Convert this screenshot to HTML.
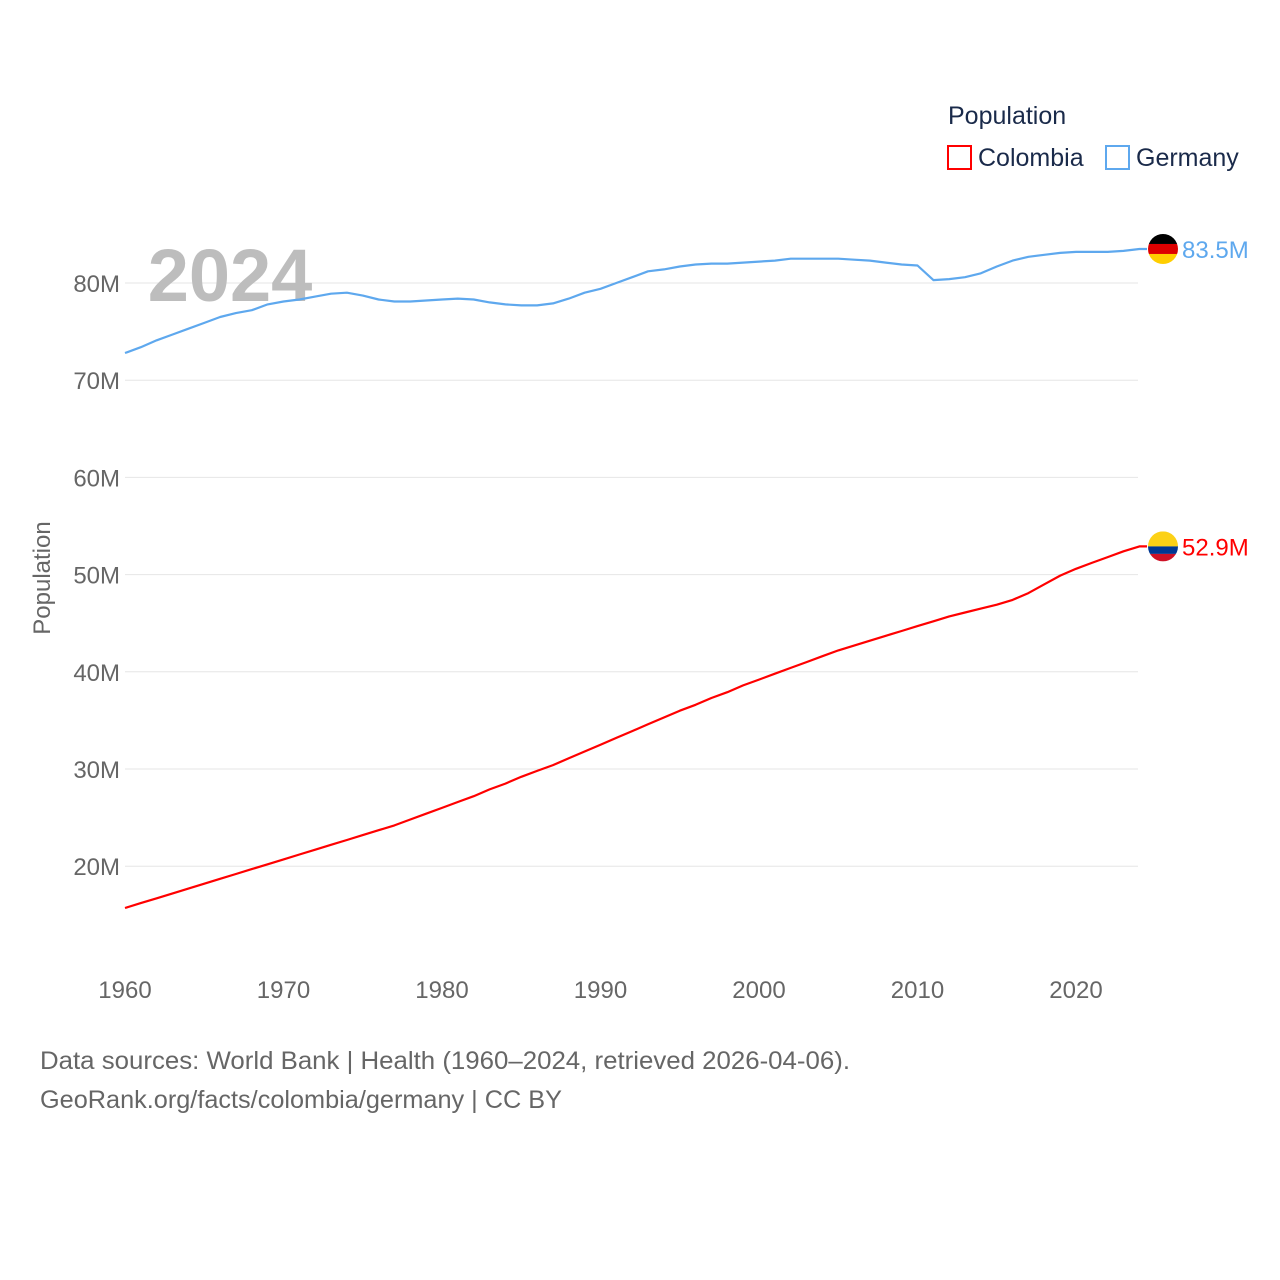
<!DOCTYPE html>
<html><head><meta charset="utf-8"><style>
body{margin:0;background:#fff;font-family:"Liberation Sans",sans-serif}
svg{display:block}
</style></head><body>
<svg width="1280" height="1280" viewBox="0 0 1280 1280">
<g id="grid"></g>
<g id="yt"></g>
<g id="xt"></g>
<text x="230" y="301" font-size="74" font-weight="bold" fill="#bdbdbd" text-anchor="middle">2024</text>
<text transform="translate(50,578) rotate(-90)" font-size="24" fill="#666" text-anchor="middle">Population</text>
<g id="lines"></g>
<g>
<text x="948" y="124" font-size="25" fill="#1a2a4a">Population</text>
<g><rect x="948" y="146" width="23" height="23" fill="none" stroke="#ff0000" stroke-width="2"/><text x="978" y="166" font-size="25" fill="#1a2a4a">Colombia</text></g>
<g><rect x="1106" y="146" width="23" height="23" fill="none" stroke="#5ea8ee" stroke-width="2"/><text x="1136" y="166" font-size="25" fill="#1a2a4a">Germany</text></g>
</g>
<g id="ends"></g>
<text x="40" y="1069" font-size="25" fill="#666" textLength="810" lengthAdjust="spacingAndGlyphs">Data sources: World Bank | Health (1960–2024, retrieved 2026-04-06).</text>
<text x="40" y="1108" font-size="25" fill="#666" textLength="522" lengthAdjust="spacingAndGlyphs">GeoRank.org/facts/colombia/germany | CC BY</text>
</svg>
<script>
const years=[];for(let y=1960;y<=2024;y++)years.push(y);
const colombia=[15.7,16.2,16.7,17.2,17.7,18.2,18.7,19.2,19.7,20.2,20.7,21.2,21.7,22.2,22.7,23.2,23.7,24.2,24.8,25.4,26.0,26.6,27.2,27.9,28.5,29.2,29.8,30.4,31.1,31.8,32.5,33.2,33.9,34.6,35.3,36.0,36.6,37.3,37.9,38.6,39.2,39.8,40.4,41.0,41.6,42.2,42.7,43.2,43.7,44.2,44.7,45.2,45.7,46.1,46.5,46.9,47.4,48.1,49.0,49.9,50.6,51.2,51.8,52.4,52.9];
const germany=[72.8,73.4,74.1,74.7,75.3,75.9,76.5,76.9,77.2,77.8,78.1,78.3,78.6,78.9,79.0,78.7,78.3,78.1,78.1,78.2,78.3,78.4,78.3,78.0,77.8,77.7,77.7,77.9,78.4,79.0,79.4,80.0,80.6,81.2,81.4,81.7,81.9,82.0,82.0,82.1,82.2,82.3,82.5,82.5,82.5,82.5,82.4,82.3,82.1,81.9,81.8,80.3,80.4,80.6,81.0,81.7,82.3,82.7,82.9,83.1,83.2,83.2,83.2,83.3,83.5];
const yTicks=[20,30,40,50,60,70,80];
const xTicks=[1960,1970,1980,1990,2000,2010,2020];
const X=y=>125+(y-1960)*15.85;
const Y=v=>283+(80-v)*9.72;
const ns="http://www.w3.org/2000/svg";
function mk(t,a,p){const e=document.createElementNS(ns,t);for(const k in a)e.setAttribute(k,a[k]);p.appendChild(e);return e;}
const grid=document.getElementById('grid'),yt=document.getElementById('yt'),xt=document.getElementById('xt');
yTicks.forEach(v=>{
 const l=mk('line',{x1:125,x2:1138,y1:Y(v),y2:Y(v),stroke:'#e6e6e6','stroke-width':1},grid);
 
 
 const t=mk('text',{x:120,y:Y(v)+9,'font-size':24,fill:'#666','text-anchor':'end'},yt);t.textContent=v+'M';
 
 
});
xTicks.forEach(v=>{
 const t=mk('text',{x:X(v),y:998,'font-size':24,fill:'#666','text-anchor':'middle'},xt);t.textContent=v;
 
 
});
const lines=document.getElementById('lines');
function line(d,c,n){const p=mk('path',{d:d.map((v,i)=>(i?'L':'M')+X(years[i]).toFixed(1)+','+Y(v).toFixed(1)).join('')+'L1147,'+Y(d[d.length-1]).toFixed(1),fill:'none',stroke:c,'stroke-width':2.2,'stroke-linejoin':'round'},lines);
 
 }
line(germany,'#5ea8ee','line-germany');
line(colombia,'#ff0000','line-colombia');
const ends=document.getElementById('ends');
function flag(v,cols,ratios,c,label,n){
 const cy=Y(v),cx=1163,r=15;const g=mk('g',{},ends);
 
 
 const cp=mk('clipPath',{id:'cp'+n},g);mk('circle',{cx,cy,r},cp);
 let y0=cy-r;cols.forEach((col,i)=>{const h=2*r*ratios[i];mk('rect',{x:cx-r,y:y0,width:2*r,height:h,fill:col,'clip-path':'url(#cp'+n+')'},g);y0+=h;});
 const t=mk('text',{x:1182,y:cy+9,'font-size':24,fill:c},g);t.textContent=label;
}
flag(germany[germany.length-1],['#000','#dd0000','#ffce00'],[1/3,1/3,1/3],'#5ea8ee','83.5M','end-label-germany');
flag(colombia[colombia.length-1],['#fcd116','#003893','#ce1126'],[0.5,0.25,0.25],'#ff0000','52.9M','end-label-colombia');
</script>
</body></html>
